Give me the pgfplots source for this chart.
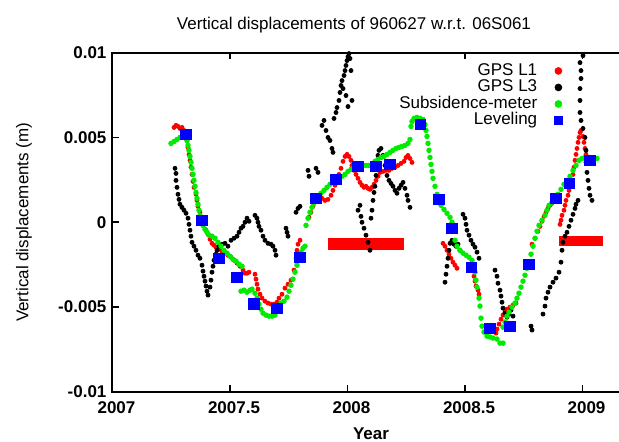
\documentclass[border=0pt]{standalone}
\usepackage{fontspec}
\setmainfont{Liberation Sans}
\usepackage{pgfplots}
\pgfplotsset{compat=1.18}
\definecolor{gpsred}{RGB}{255,0,0}
\definecolor{subgreen}{RGB}{0,235,0}
\definecolor{levblue}{RGB}{0,0,255}
\begin{document}
\fontsize{8.5}{10}\selectfont
\begin{tikzpicture}
\begin{axis}[
  scale only axis,
  width=258.5pt, height=169.7pt,
  xmin=2007, xmax=2009.2, ymin=-0.01, ymax=0.01,
  xtick={2007,2007.5,2008,2008.5,2009},
  xticklabels={2007,2007.5,2008,2008.5,2009},
  ytick={-0.01,-0.005,0,0.005,0.01},
  yticklabels={-0.01,-0.005,0,0.005,0.01},
  scaled y ticks=false, scaled x ticks=false,
  tick align=inside,
  ytick pos=left,
  major tick length=3.3pt,
  tick style={black, line width=0.8pt},
  axis line style={line width=1pt},
  ticklabel style={font=\fontsize{8.5}{10}\selectfont\bfseries},
  xticklabel style={yshift=-2pt, xshift=2pt},
  xlabel={Year},
  xlabel style={font=\fontsize{8.5}{10}\selectfont\bfseries, at={(axis description cs:0.5,-0.1414)}, anchor=base},
  ylabel={Vertical displacements (m)},
  ylabel style={font=\fontsize{8.5}{10}\selectfont, at={(axis description cs:-0.171,0.5)}, anchor=center},
  title={Vertical displacements of 960627 w.r.t. 06S061},
  every axis title shift=0pt,
  title style={font=\fontsize{8.5}{10}\selectfont, at={(axis description cs:0.467,1.0669)}, anchor=base},
  legend style={draw=none, fill=none, at={(0.8714,0.9714)}, anchor=north east, inner sep=0pt, row sep=0pt, column sep=8.5pt,
    nodes={inner sep=0pt, text height=6.3pt, text depth=1.95pt, font=\fontsize{8.5}{10}\selectfont}},
  legend cell align=right,
  legend plot pos=right,
]
% GPS L1
\addplot[only marks, mark=*, mark size=1.0pt, color=gpsred, legend image post style={mark size=1.7pt}] coordinates {
(2007.2617,5.59e-3)(2007.2702,5.71e-3)(2007.2787,5.65e-3)(2007.2872,5.53e-3)(2007.2957,5.59e-3)(2007.3043,5.41e-3)
(2007.3170,4.82e-3)(2007.3213,4.41e-3)(2007.3255,4.00e-3)(2007.3298,3.65e-3)(2007.3340,3.24e-3)(2007.3383,2.82e-3)
(2007.3426,2.41e-3)(2007.3468,2.06e-3)(2007.3553,1.65e-3)(2007.3596,1.29e-3)(2007.3638,0.94e-3)(2007.3723,0.59e-3)
(2007.3809,0.24e-3)(2007.3894,-0.12e-3)(2007.3979,-0.47e-3)(2007.4064,-0.71e-3)(2007.4149,-1.00e-3)(2007.4234,-1.24e-3)
(2007.4319,-1.35e-3)(2007.4404,-1.47e-3)(2007.4532,-1.59e-3)(2007.4660,-1.71e-3)(2007.4787,-1.82e-3)(2007.4915,-1.94e-3)
(2007.5043,-2.06e-3)(2007.5170,-2.24e-3)(2007.5298,-2.41e-3)(2007.5426,-2.59e-3)(2007.5553,-2.82e-3)(2007.5638,-3.00e-3)
(2007.5723,-3.00e-3)(2007.5809,-2.94e-3)
(2007.6064,-3.06e-3)(2007.6106,-3.35e-3)(2007.6149,-3.65e-3)(2007.6191,-3.94e-3)(2007.6277,-4.24e-3)(2007.6362,-4.47e-3)
(2007.6489,-4.65e-3)(2007.6617,-4.76e-3)(2007.6745,-4.82e-3)(2007.6872,-4.82e-3)(2007.7000,-4.71e-3)(2007.7085,-4.47e-3)
(2007.7213,-4.24e-3)(2007.7340,-3.88e-3)(2007.7468,-3.65e-3)(2007.7596,-3.41e-3)(2007.7723,-2.82e-3)(2007.7809,-2.12e-3)
(2007.7851,-1.65e-3)(2007.7894,-1.29e-3)(2007.7979,-1.06e-3)
(2007.8362,0.29e-3)(2007.8447,0.59e-3)(2007.8532,0.94e-3)(2007.8660,1.24e-3)(2007.8787,1.47e-3)(2007.8915,1.41e-3)
(2007.9043,1.29e-3)(2007.9170,1.35e-3)(2007.9298,1.59e-3)(2007.9383,1.88e-3)(2007.9468,2.18e-3)(2007.9553,2.47e-3)
(2007.9638,2.82e-3)(2007.9723,3.18e-3)(2007.9809,3.59e-3)(2007.9894,3.88e-3)(2007.9979,4.00e-3)(2008.0064,3.88e-3)
(2008.0149,3.65e-3)(2008.0191,3.35e-3)(2008.0277,3.06e-3)(2008.0362,2.82e-3)(2008.0447,2.59e-3)(2008.0532,2.35e-3)
(2008.0617,2.18e-3)(2008.0702,2.06e-3)(2008.0787,2.12e-3)(2008.0872,2.00e-3)(2008.0957,1.94e-3)(2008.1043,2.06e-3)
(2008.1128,2.24e-3)(2008.1213,2.47e-3)(2008.1298,2.71e-3)(2008.1383,2.94e-3)(2008.1511,3.00e-3)(2008.1638,3.06e-3)
(2008.1766,3.06e-3)(2008.1894,3.18e-3)(2008.2021,3.24e-3)(2008.2149,3.35e-3)(2008.2277,3.47e-3)(2008.2404,3.59e-3)
(2008.2489,3.82e-3)(2008.2574,3.94e-3)(2008.2660,3.76e-3)(2008.2745,3.53e-3)
(2008.4064,-1.24e-3)(2008.4149,-1.41e-3)(2008.4234,-1.65e-3)(2008.4319,-1.88e-3)(2008.4404,-2.12e-3)(2008.4489,-2.35e-3)
(2008.4574,-2.53e-3)(2008.4660,-2.71e-3)
(2008.5255,-2.53e-3)(2008.5298,-2.82e-3)(2008.5383,-3.18e-3)(2008.5426,-3.47e-3)(2008.5468,-3.76e-3)(2008.5553,-4.00e-3)
(2008.5596,-4.24e-3)
(2008.6319,-6.53e-3)(2008.6362,-6.29e-3)(2008.6447,-6.00e-3)(2008.6532,-5.71e-3)(2008.6617,-5.47e-3)(2008.6702,-5.29e-3)
(2008.6787,-5.12e-3)(2008.6915,-5.00e-3)(2008.7043,-4.88e-3)(2008.7170,-4.76e-3)
(2008.7851,-1.29e-3)(2008.7979,-0.94e-3)(2008.8106,-0.53e-3)(2008.8191,-0.24e-3)(2008.8277,0.06e-3)(2008.8362,0.35e-3)
(2008.8447,0.59e-3)(2008.8532,0.82e-3)(2008.8617,1.00e-3)(2008.8702,1.12e-3)(2008.8787,1.24e-3)
(2008.9043,-0.12e-3)(2008.9085,0.12e-3)(2008.9128,0.41e-3)(2008.9213,0.71e-3)(2008.9255,1.00e-3)(2008.9298,1.29e-3)
(2008.9383,1.59e-3)(2008.9426,1.88e-3)(2008.9468,2.12e-3)(2008.9553,2.47e-3)(2008.9596,2.82e-3)(2008.9638,3.24e-3)
(2008.9681,3.65e-3)(2008.9723,4.00e-3)(2008.9766,4.35e-3)(2008.9809,4.71e-3)(2008.9851,5.00e-3)(2008.9894,5.29e-3)
(2008.9936,5.41e-3)(2009.0021,5.06e-3)(2009.0064,4.71e-3)(2009.0106,4.35e-3)(2009.0149,4.00e-3)(2009.0234,3.76e-3)
};
\addlegendentry{GPS L1}
% GPS L3
\addplot[only marks, mark=*, mark size=1.0pt, color=black, legend image post style={mark size=1.7pt}] coordinates {
(2007.2660,3.18e-3)(2007.2702,2.88e-3)(2007.2702,2.47e-3)(2007.2745,2.06e-3)(2007.2787,1.65e-3)(2007.2830,1.35e-3)
(2007.2872,1.06e-3)(2007.2957,0.88e-3)(2007.3043,0.71e-3)(2007.3128,0.53e-3)(2007.3213,0.24e-3)(2007.3255,-0.12e-3)
(2007.3298,-0.47e-3)(2007.3340,-0.82e-3)(2007.3383,-1.18e-3)(2007.3468,-1.41e-3)(2007.3553,-1.65e-3)(2007.3638,-1.94e-3)
(2007.3723,-2.12e-3)(2007.3809,-2.53e-3)(2007.3851,-2.88e-3)(2007.3894,-3.18e-3)(2007.3936,-3.47e-3)(2007.3979,-3.76e-3)
(2007.4021,-4.06e-3)(2007.4064,-4.29e-3)(2007.4149,-3.82e-3)(2007.4191,-3.41e-3)(2007.4234,-2.94e-3)(2007.4277,-2.59e-3)
(2007.4319,-2.24e-3)(2007.4404,-1.88e-3)(2007.4447,-1.65e-3)(2007.4532,-1.41e-3)(2007.4660,-1.29e-3)(2007.4787,-1.24e-3)
(2007.4915,-1.41e-3)(2007.5043,-1.06e-3)(2007.5170,-0.94e-3)(2007.5298,-0.82e-3)(2007.5383,-0.59e-3)(2007.5468,-0.35e-3)
(2007.5553,-0.24e-3)(2007.5638,0.00e-3)(2007.5723,0.24e-3)(2007.5809,0.06e-3)
(2007.6064,0.41e-3)(2007.6149,0.24e-3)(2007.6191,0.00e-3)(2007.6234,-0.24e-3)(2007.6319,-0.47e-3)(2007.6404,-0.82e-3)
(2007.6489,-1.06e-3)(2007.6617,-1.24e-3)(2007.6745,-1.29e-3)(2007.6830,-1.41e-3)(2007.6915,-1.65e-3)(2007.6957,-1.94e-3)
(2007.7383,-0.35e-3)(2007.7426,-0.59e-3)(2007.7468,-0.82e-3)(2007.7809,0.59e-3)(2007.7894,0.82e-3)(2007.7979,0.94e-3)
(2007.8319,3.06e-3)(2007.8362,2.71e-3)(2007.8660,3.18e-3)(2007.8745,2.94e-3)(2007.8915,5.71e-3)(2007.9000,6.00e-3)
(2007.9085,5.41e-3)(2007.9170,5.00e-3)(2007.9255,4.82e-3)(2007.9340,4.35e-3)(2007.9383,4.12e-3)(2007.9426,6.12e-3)
(2007.9511,6.47e-3)(2007.9553,6.76e-3)(2007.9638,7.18e-3)(2007.9681,7.65e-3)(2007.9723,8.06e-3)(2007.9766,8.35e-3)
(2007.9809,7.88e-3)(2007.9851,8.65e-3)(2007.9894,8.94e-3)(2007.9936,9.24e-3)(2007.9979,9.53e-3)(2008.0021,9.76e-3)
(2008.0064,9.94e-3)(2008.0106,9.65e-3)(2008.0149,8.94e-3)(2008.0191,7.18e-3)(2008.0021,6.82e-3)(2007.9936,7.47e-3)
(2008.0447,0.71e-3)(2008.0532,1.00e-3)(2008.0574,0.35e-3)(2008.0617,0.00e-3)(2008.0702,-0.35e-3)(2008.0787,-0.76e-3)
(2008.0872,-1.18e-3)(2008.0957,-1.65e-3)(2008.1000,0.24e-3)(2008.1043,0.71e-3)(2008.1085,1.29e-3)(2008.1128,1.76e-3)
(2008.1170,2.12e-3)(2008.1213,2.76e-3)(2008.1255,3.35e-3)(2008.1298,3.94e-3)(2008.1340,4.24e-3)(2008.1426,4.35e-3)
(2008.1511,3.94e-3)(2008.1596,3.35e-3)(2008.1681,2.76e-3)(2008.1766,2.47e-3)(2008.1851,2.29e-3)(2008.1936,2.12e-3)
(2008.2021,1.88e-3)(2008.2106,1.71e-3)(2008.2191,2.00e-3)(2008.2277,2.18e-3)(2008.2362,2.35e-3)(2008.2447,2.00e-3)
(2008.2532,1.59e-3)(2008.2574,1.29e-3)(2008.2660,0.88e-3)
(2008.4149,-3.53e-3)(2008.4191,-3.06e-3)(2008.4234,-2.59e-3)(2008.4277,-2.12e-3)(2008.4319,-1.65e-3)(2008.4362,-1.24e-3)
(2008.4447,-1.06e-3)(2008.4532,-1.29e-3)(2008.4617,-1.41e-3)(2008.4702,-1.29e-3)(2008.4787,-1.65e-3)(2008.4915,0.47e-3)
(2008.5000,0.24e-3)(2008.5043,-0.12e-3)(2008.5085,-0.47e-3)(2008.5170,-0.76e-3)(2008.5255,-1.06e-3)(2008.5340,-1.29e-3)
(2008.5426,-1.47e-3)(2008.5511,-1.76e-3)(2008.5596,-2.12e-3)
(2008.6277,-2.82e-3)(2008.6362,-3.18e-3)(2008.6404,-3.59e-3)(2008.6489,-4.00e-3)(2008.6532,-4.35e-3)(2008.6574,-4.71e-3)
(2008.6617,-5.06e-3)(2008.6702,-5.35e-3)(2008.6787,-5.59e-3)(2008.6872,-5.41e-3)(2008.6957,-5.18e-3)(2008.7043,-5.53e-3)
(2008.7809,-6.12e-3)(2008.7851,-6.35e-3)(2008.8319,-5.41e-3)(2008.8404,-4.94e-3)(2008.8447,-4.47e-3)(2008.8532,-4.12e-3)
(2008.8617,-3.82e-3)(2008.8745,-3.53e-3)(2008.8872,-3.29e-3)(2008.9000,-2.94e-3)(2008.9085,-2.35e-3)(2008.9128,-1.65e-3)
(2008.9170,-1.18e-3)(2008.9255,-0.82e-3)(2008.9340,-0.59e-3)(2008.9426,-0.24e-3)(2008.9511,0.12e-3)(2008.9596,0.47e-3)
(2008.9681,0.82e-3)(2008.9723,1.06e-3)(2008.9809,1.29e-3)
(2008.9894,9.41e-3)(2008.9936,8.94e-3)(2008.9936,8.47e-3)(2008.9894,7.88e-3)(2008.9894,7.18e-3)(2008.9894,6.47e-3)
(2008.9936,6.00e-3)(2009.0021,5.53e-3)(2009.0106,5.00e-3)(2009.0149,4.24e-3)(2009.0149,3.53e-3)(2009.0191,2.94e-3)
(2009.0234,2.47e-3)(2009.0277,2.00e-3)(2009.0319,1.59e-3)(2009.0404,1.29e-3)(2009.0021,9.82e-3)
};
\addlegendentry{GPS L3}
% reference bars
\addplot[gpsred, line width=6pt, forget plot] coordinates {(2007.917,-1.28e-3) (2008.240,-1.28e-3)};
\addplot[gpsred, line width=5pt, forget plot] coordinates {(2008.900,-1.12e-3) (2009.087,-1.12e-3)};
% Subsidence-meter
\addplot[only marks, mark=*, mark size=1.15pt, color=subgreen, legend image post style={mark size=1.7pt}] coordinates {
(2007.2489,4.65e-3)(2007.2617,4.76e-3)(2007.2745,4.88e-3)(2007.2872,5.00e-3)(2007.3000,5.06e-3)(2007.3128,5.06e-3)
(2007.3170,4.82e-3)(2007.3213,4.53e-3)(2007.3255,4.24e-3)(2007.3298,3.88e-3)(2007.3340,3.53e-3)(2007.3383,3.18e-3)
(2007.3426,2.82e-3)(2007.3468,2.47e-3)(2007.3511,2.12e-3)(2007.3553,1.76e-3)(2007.3596,1.41e-3)(2007.3638,1.06e-3)
(2007.3681,0.71e-3)(2007.3723,0.41e-3)(2007.3766,0.12e-3)(2007.3851,-0.18e-3)(2007.3936,-0.41e-3)(2007.4021,-0.59e-3)
(2007.4106,-0.76e-3)(2007.4234,-0.82e-3)(2007.4362,-0.94e-3)(2007.4489,-1.18e-3)(2007.4617,-1.41e-3)(2007.4745,-1.65e-3)
(2007.4872,-1.82e-3)(2007.5000,-2.00e-3)(2007.5128,-2.18e-3)(2007.5255,-2.29e-3)(2007.5383,-2.47e-3)(2007.5511,-2.59e-3)
(2007.5468,-4.06e-3)(2007.5596,-4.00e-3)(2007.5723,-4.12e-3)(2007.5851,-4.00e-3)(2007.5936,-3.94e-3)(2007.6064,-4.18e-3)
(2007.6149,-4.47e-3)(2007.6234,-4.82e-3)(2007.6319,-5.12e-3)(2007.6404,-5.35e-3)(2007.6532,-5.47e-3)(2007.6660,-5.53e-3)
(2007.6787,-5.53e-3)(2007.6915,-5.47e-3)(2007.7000,-5.24e-3)(2007.7043,-4.94e-3)(2007.7170,-4.76e-3)(2007.7298,-4.65e-3)
(2007.7426,-4.41e-3)(2007.7511,-4.06e-3)(2007.7596,-3.71e-3)(2007.7681,-3.35e-3)(2007.7766,-2.94e-3)(2007.7851,-2.53e-3)
(2007.7936,-2.12e-3)(2007.8021,-1.76e-3)(2007.8106,-1.53e-3)(2007.8191,-1.41e-3)
(2007.8234,-0.18e-3)(2007.8319,0.24e-3)(2007.8404,0.59e-3)(2007.8489,0.88e-3)(2007.8574,1.12e-3)(2007.8660,1.35e-3)
(2007.8745,1.53e-3)(2007.8872,1.71e-3)(2007.9000,1.88e-3)(2007.9128,2.06e-3)(2007.9255,2.24e-3)(2007.9383,2.41e-3)
(2007.9511,2.47e-3)(2007.9638,2.59e-3)(2007.9766,2.71e-3)(2007.9894,2.82e-3)(2008.0021,3.00e-3)(2008.0149,3.12e-3)
(2008.0277,3.24e-3)(2008.0404,3.29e-3)(2008.0532,3.29e-3)(2008.0660,3.35e-3)(2008.0787,3.35e-3)(2008.0915,3.35e-3)
(2008.1043,3.41e-3)(2008.1170,3.59e-3)(2008.1298,3.71e-3)(2008.1426,3.82e-3)(2008.1553,3.88e-3)(2008.1681,4.00e-3)
(2008.1809,4.12e-3)(2008.1936,4.24e-3)(2008.2064,4.35e-3)(2008.2191,4.41e-3)(2008.2319,4.47e-3)(2008.2447,4.53e-3)
(2008.2574,4.65e-3)(2008.2660,4.88e-3)
(2008.2702,5.65e-3)(2008.2745,5.94e-3)(2008.2830,6.12e-3)(2008.2957,6.18e-3)(2008.3085,6.12e-3)(2008.3213,6.06e-3)
(2008.3298,5.76e-3)(2008.3340,5.41e-3)(2008.3383,5.06e-3)(2008.3426,4.65e-3)(2008.3468,4.24e-3)(2008.3511,3.82e-3)
(2008.3553,3.41e-3)(2008.3596,3.00e-3)(2008.3638,2.59e-3)(2008.3723,2.12e-3)(2008.3809,1.65e-3)(2008.3894,1.29e-3)
(2008.3979,1.00e-3)(2008.4106,0.76e-3)(2008.4234,0.53e-3)(2008.4362,0.29e-3)(2008.4447,0.00e-3)(2008.4532,-0.35e-3)
(2008.4574,-1.06e-3)(2008.4660,-1.41e-3)(2008.4787,-1.65e-3)(2008.4915,-1.82e-3)(2008.5043,-1.94e-3)(2008.5170,-2.06e-3)
(2008.5298,-2.24e-3)(2008.5383,-2.59e-3)(2008.5426,-2.94e-3)(2008.5468,-3.41e-3)(2008.5511,-3.82e-3)(2008.5596,-4.47e-3)
(2008.5638,-4.94e-3)(2008.5681,-5.65e-3)(2008.5723,-6.12e-3)(2008.5809,-6.47e-3)(2008.5936,-6.71e-3)(2008.6064,-6.76e-3)
(2008.6191,-6.82e-3)(2008.6362,-6.88e-3)(2008.6489,-7.12e-3)(2008.6617,-7.12e-3)
(2008.6617,-6.18e-3)(2008.6702,-5.88e-3)(2008.6787,-5.53e-3)(2008.6872,-5.29e-3)(2008.7000,-5.00e-3)(2008.7128,-4.76e-3)
(2008.7213,-4.47e-3)(2008.7298,-4.18e-3)(2008.7383,-3.82e-3)(2008.7468,-3.47e-3)(2008.7553,-3.12e-3)(2008.7638,-2.71e-3)
(2008.7723,-2.35e-3)(2008.7809,-1.88e-3)(2008.7894,-1.41e-3)(2008.7979,-0.94e-3)(2008.8064,-0.53e-3)(2008.8149,-0.18e-3)
(2008.8277,0.12e-3)(2008.8404,0.41e-3)(2008.8489,0.71e-3)(2008.8574,1.00e-3)(2008.8702,1.18e-3)(2008.8830,1.41e-3)
(2008.8957,1.65e-3)(2008.9085,1.94e-3)(2008.9213,2.24e-3)(2008.9340,2.47e-3)(2008.9468,2.71e-3)(2008.9596,3.06e-3)
(2008.9723,3.35e-3)(2008.9851,3.65e-3)(2008.9979,3.76e-3)(2009.0106,3.82e-3)(2009.0234,3.76e-3)(2009.0362,3.76e-3)
(2009.0489,3.76e-3)(2009.0617,3.76e-3)
};
\addlegendentry{Subsidence-meter}
% Leveling
\addplot[only marks, mark=square*, mark size=2.6pt, color=levblue, legend image post style={mark size=2.1pt}] coordinates {
(2007.313,5.18e-3)(2007.381,0.12e-3)(2007.453,-2.12e-3)(2007.530,-3.24e-3)(2007.602,-4.82e-3)(2007.700,-5.06e-3)
(2007.798,-2.06e-3)(2007.866,1.41e-3)(2007.951,2.53e-3)(2008.045,3.29e-3)(2008.121,3.29e-3)(2008.181,3.41e-3)
(2008.309,5.76e-3)(2008.389,1.35e-3)(2008.444,-0.35e-3)(2008.526,-2.65e-3)(2008.606,-6.24e-3)(2008.691,-6.12e-3)
(2008.772,-2.47e-3)(2008.887,1.41e-3)(2008.943,2.29e-3)(2009.032,3.65e-3)
};
\addlegendentry{Leveling}
\end{axis}
\pgfresetboundingbox
\path[use as bounding box] (-56.25pt,-25pt) rectangle (253.25pt,196pt);
\end{tikzpicture}
\end{document}
